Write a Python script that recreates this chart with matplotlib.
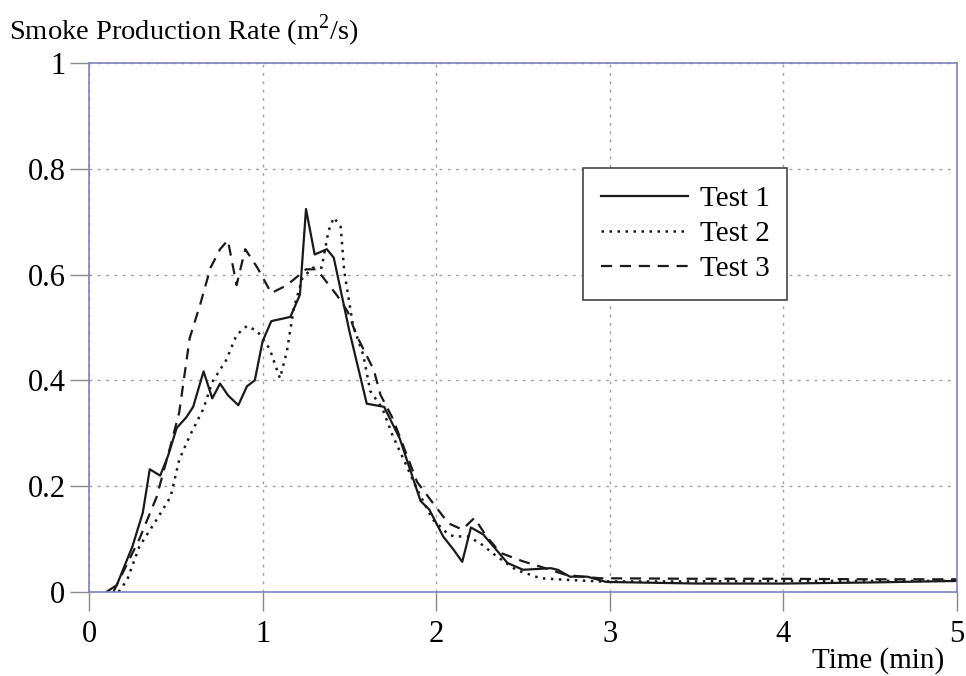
import matplotlib
matplotlib.use("Agg")
import matplotlib.pyplot as plt

# ---- data ----
t1 = [0.10, 0.16, 0.25, 0.31, 0.35, 0.41, 0.455, 0.505, 0.56, 0.60, 0.66, 0.71, 0.755, 0.80, 0.86,
      0.91, 0.955, 1.00, 1.05, 1.16, 1.215, 1.25, 1.30, 1.37, 1.41, 1.50, 1.60, 1.70, 1.79, 1.91,
      1.96, 2.04, 2.10, 2.15, 2.20, 2.27, 2.33, 2.41, 2.50, 2.66, 2.70, 2.77, 2.87, 2.98, 3.5, 4.0, 4.5, 5.0]
v1 = [0.0, 0.013, 0.086, 0.15, 0.232, 0.22, 0.257, 0.31, 0.33, 0.35, 0.417, 0.366, 0.394, 0.372, 0.353,
      0.389, 0.40, 0.474, 0.512, 0.52, 0.562, 0.724, 0.638, 0.648, 0.632, 0.493, 0.356, 0.35, 0.29, 0.172,
      0.156, 0.105, 0.08, 0.057, 0.122, 0.109, 0.086, 0.055, 0.042, 0.045, 0.042, 0.029, 0.029, 0.019,
      0.016, 0.016, 0.018, 0.021]

t2 = [0.17, 0.22, 0.29, 0.39, 0.47, 0.52, 0.58, 0.66, 0.71, 0.79, 0.85, 0.91, 0.97, 1.04, 1.10, 1.14,
      1.18, 1.23, 1.29, 1.34, 1.38, 1.41, 1.45, 1.47, 1.52, 1.58, 1.62, 1.69, 1.75, 1.83, 1.89, 1.98,
      2.06, 2.10, 2.18, 2.25, 2.35, 2.46, 2.60, 2.75, 2.94, 3.5, 4.0, 4.5, 5.0]
v2 = [0.0, 0.023, 0.086, 0.137, 0.18, 0.25, 0.295, 0.347, 0.397, 0.438, 0.486, 0.503, 0.493, 0.46, 0.404,
      0.455, 0.537, 0.594, 0.613, 0.613, 0.683, 0.708, 0.69, 0.607, 0.505, 0.448, 0.38, 0.347, 0.295,
      0.238, 0.194, 0.137, 0.112, 0.105, 0.105, 0.093, 0.067, 0.042, 0.026, 0.023, 0.02, 0.02, 0.021,
      0.021, 0.021]

t3 = [0.14, 0.29, 0.39, 0.47, 0.52, 0.58, 0.64, 0.70, 0.755, 0.80, 0.85, 0.90, 0.97, 1.05, 1.14, 1.25,
      1.31, 1.35, 1.43, 1.49, 1.54, 1.64, 1.68, 1.75, 1.89, 2.00, 2.07, 2.15, 2.22, 2.29, 2.37, 2.50,
      2.60, 2.75, 2.94, 3.5, 4.0, 4.5, 5.0]
v3 = [0.0, 0.10, 0.18, 0.277, 0.34, 0.48, 0.543, 0.613, 0.648, 0.665, 0.58, 0.648, 0.613, 0.565, 0.58,
      0.61, 0.61, 0.594, 0.56, 0.53, 0.486, 0.42, 0.372, 0.328, 0.208, 0.16, 0.13, 0.118, 0.14, 0.105,
      0.074, 0.058, 0.048, 0.032, 0.026, 0.025, 0.025, 0.024, 0.024]

labels = ["Test 1", "Test 2", "Test 3"]
xticks = [0, 1, 2, 3, 4, 5]
yticks = [0, 0.2, 0.4, 0.6, 0.8, 1]
ytick_labels = ["0", "0.2", "0.4", "0.6", "0.8", "1"]

plt.rcParams['font.family'] = ['Liberation Serif', 'DejaVu Serif']
plt.rcParams['mathtext.fontset'] = 'custom'
plt.rcParams['mathtext.rm'] = 'Liberation Serif'

fig = plt.figure(figsize=(9.66, 6.76), dpi=100)
W, H = 966, 676
ax = fig.add_axes([89 / W, (H - 592) / H, (957 - 89) / W, (592 - 63) / H])

ax.plot(t1, v1, color='#1a1a1a', lw=1.6, ls='-', label=labels[0])
ax.plot(t2, v2, color='#1a1a1a', lw=1.8, ls=(0, (1, 2.2)), label=labels[1])
ax.plot(t3, v3, color='#1a1a1a', lw=1.6, ls=(0, (5, 3.5)), label=labels[2])

ax.set_xlim(0, 5)
ax.set_ylim(0, 1)
ax.set_xticks(xticks)
ax.set_xticklabels([str(x) for x in xticks])
ax.set_yticks(yticks)
ax.set_yticklabels(ytick_labels)

spine_col = '#7f82c0'
for s in ax.spines.values():
    s.set_color(spine_col)
    s.set_linewidth(1.2)

ax.tick_params(axis='x', direction='out', length=14, width=1.0, color='#888888',
               labelsize=22, pad=6)
ax.tick_params(axis='y', direction='out', length=14, width=1.0, color='#888888',
               labelsize=22, pad=3)

ax.grid(True, color='#a0a0a0', ls=(0, (2, 4)), lw=1.0)

ax.text(-0.092, 1.06, r'Smoke Production Rate (m$^2$/s)', transform=ax.transAxes,
        fontsize=20.5, ha='left', va='center')
ax.text(0.985, -0.13, 'Time (min)', transform=ax.transAxes,
        fontsize=21, ha='right', va='center')

leg = ax.legend(loc='upper left', bbox_to_anchor=((583 - 89) / 868, (592 - 168) / 529),
                fontsize=21, frameon=True, fancybox=False, handlelength=3.0,
                handletextpad=0.4, borderpad=0.6, labelspacing=0.3, borderaxespad=0)
leg.get_frame().set_edgecolor('#444444')
leg.get_frame().set_linewidth(1.2)
leg.get_frame().set_alpha(1)

fig.savefig('out.png', dpi=100)
